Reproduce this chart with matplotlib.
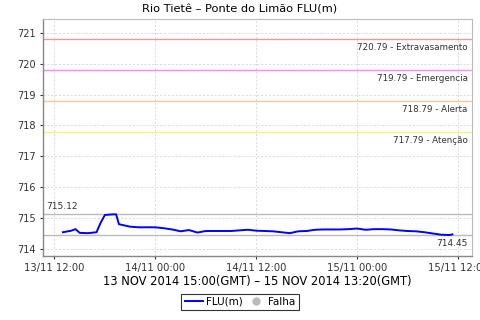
import matplotlib
matplotlib.use("Agg")
import matplotlib.pyplot as plt
import matplotlib.dates as mdates
from matplotlib.lines import Line2D
import pandas as pd

times = ["2014-11-13 13:00", "2014-11-13 14:00", "2014-11-13 14:30", "2014-11-13 15:00",
         "2014-11-13 16:00", "2014-11-13 17:00", "2014-11-13 17:30", "2014-11-13 18:00",
         "2014-11-13 19:00", "2014-11-13 19:20", "2014-11-13 19:40", "2014-11-13 20:00",
         "2014-11-13 21:00", "2014-11-13 22:00", "2014-11-13 23:00", "2014-11-14 00:00",
         "2014-11-14 01:00", "2014-11-14 02:00", "2014-11-14 03:00", "2014-11-14 04:00",
         "2014-11-14 05:00", "2014-11-14 06:00", "2014-11-14 07:00", "2014-11-14 08:00",
         "2014-11-14 09:00", "2014-11-14 10:00", "2014-11-14 11:00", "2014-11-14 12:00",
         "2014-11-14 13:00", "2014-11-14 14:00", "2014-11-14 15:00", "2014-11-14 16:00",
         "2014-11-14 17:00", "2014-11-14 18:00", "2014-11-14 19:00", "2014-11-14 20:00",
         "2014-11-14 21:00", "2014-11-14 22:00", "2014-11-14 23:00", "2014-11-15 00:00",
         "2014-11-15 01:00", "2014-11-15 02:00", "2014-11-15 03:00", "2014-11-15 04:00",
         "2014-11-15 05:00", "2014-11-15 06:00", "2014-11-15 07:00", "2014-11-15 08:00",
         "2014-11-15 09:00", "2014-11-15 10:00", "2014-11-15 11:00", "2014-11-15 11:20"]
flu = [714.54, 714.59, 714.64, 714.52, 714.51, 714.54, 714.85, 715.10,
       715.12, 715.12, 714.80, 714.78, 714.72, 714.70, 714.70, 714.70,
       714.67, 714.63, 714.57, 714.61, 714.53, 714.58, 714.58, 714.58,
       714.58, 714.60, 714.62, 714.59, 714.58, 714.57, 714.54, 714.51,
       714.57, 714.58, 714.62, 714.63, 714.63, 714.63, 714.64, 714.66,
       714.62, 714.64, 714.64, 714.63, 714.60, 714.58, 714.57, 714.54,
       714.50, 714.46, 714.45, 714.47]

thresholds = [720.79, 719.79, 718.79, 717.79]
threshold_names = ["Extravasamento", "Emergencia", "Alerta", "Atenção"]
threshold_colors = ["#EE9A9A", "#FF88FF", "#F5C896", "#FFF07A"]
max_val = 715.12
min_val = 714.45

title = "Rio Tietê – Ponte do Limão FLU(m)"
xlabel = "13 NOV 2014 15:00(GMT) – 15 NOV 2014 13:20(GMT)"
yticks = [714, 715, 716, 717, 718, 719, 720, 721]
xticks = ["2014-11-13 12:00", "2014-11-14 00:00", "2014-11-14 12:00",
          "2014-11-15 00:00", "2014-11-15 12:00"]

t = pd.to_datetime(times)
xt = pd.to_datetime(xticks)

fig = plt.figure(figsize=(4.8, 3.2), dpi=100)
ax = fig.add_axes([43/480, 1-256/320, (472-43)/480, (256-19)/320])

for v, name, c in zip(thresholds, threshold_names, threshold_colors):
    ax.axhline(v, color=c, lw=1.0, zorder=2)
    ax.text(0.99, v - 0.12, f"{v:.2f} - {name}", transform=ax.get_yaxis_transform(),
            ha="right", va="top", fontsize=6.3, color="#333333")

ax.axhline(max_val, color="#BBBBBB", lw=1.0, zorder=2)
ax.axhline(min_val, color="#BBBBBB", lw=1.0, zorder=2)
ax.text(0.008, max_val + 0.12, f"{max_val:.2f}", transform=ax.get_yaxis_transform(),
        ha="left", va="bottom", fontsize=6.5, color="#333333")
ax.text(0.99, min_val - 0.12, f"{min_val:.2f}", transform=ax.get_yaxis_transform(),
        ha="right", va="top", fontsize=6.5, color="#333333")

ax.plot(t, flu, color="#0000FF", lw=1.4, zorder=3)

ax.set_ylim(713.77, 721.45)
ax.set_xlim(pd.Timestamp("2014-11-13 10:38"), pd.Timestamp("2014-11-15 13:40"))
ax.set_yticks(yticks)
ax.set_yticklabels([str(y) for y in yticks])
ax.set_xticks(xt)
ax.xaxis.set_major_formatter(mdates.DateFormatter("%d/%m %H:%M"))
ax.tick_params(labelsize=7, colors="#333333", length=2, width=0.8, pad=3)
ax.tick_params(axis="x", labelsize=7.2)
ax.grid(True, color="#D8D8D8", ls=(0, (2, 2)), lw=0.7)
for s in ["top", "right"]:
    ax.spines[s].set_color("#BBBBBB")
    ax.spines[s].set_linewidth(0.8)
for s in ["left", "bottom"]:
    ax.spines[s].set_color("#888888")
    ax.spines[s].set_linewidth(1.0)

fig.text(0.5, 1-9/320, title, ha="center", va="center", fontsize=8.2)
fig.text(257.5/480, 1-281/320, xlabel, ha="center", va="center", fontsize=8.3)

handles = [Line2D([], [], color="#0000FF", lw=1.4),
           Line2D([], [], marker="o", ls="none", color="#BBBBBB", markersize=5)]
leg = fig.legend(handles, ["FLU(m)", "Falha"], loc="center", bbox_to_anchor=(0.5, 1-302/320),
                 ncol=2, fontsize=7.5, frameon=True, fancybox=False, handlelength=1.8,
                 handletextpad=0.3, columnspacing=0.3, borderpad=0.3, edgecolor="black")
leg.get_frame().set_linewidth(0.8)

fig.savefig("out.png", dpi=100)
